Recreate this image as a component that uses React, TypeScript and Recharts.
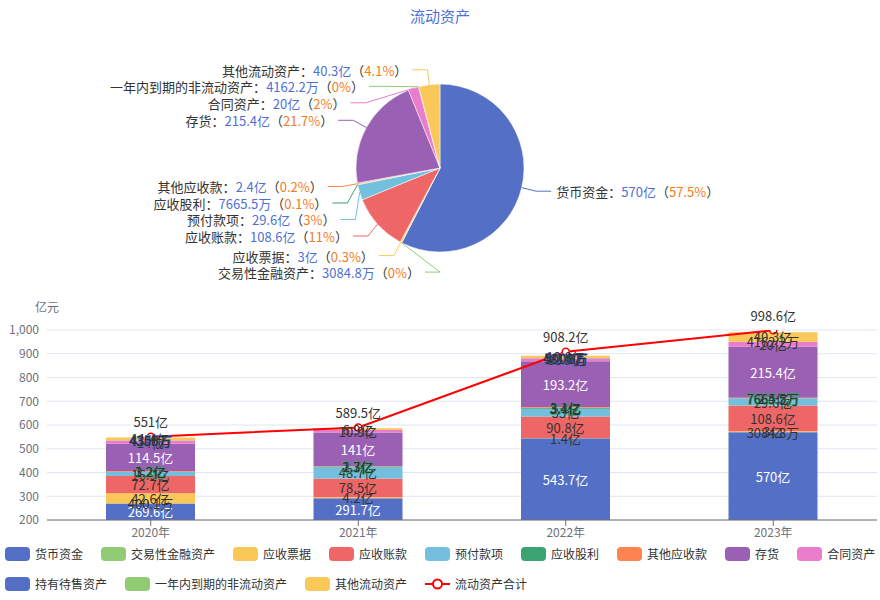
import React from 'react';
import { PieChart, Pie, Cell, ComposedChart, Bar, Line, XAxis, YAxis, CartesianGrid, LabelList } from 'recharts';

// 单位：亿元
const years = ['2020年', '2021年', '2022年', '2023年'];
const seriesNames = [
  '货币资金', '交易性金融资产', '应收票据', '应收账款', '预付款项', '应收股利',
  '其他应收款', '存货', '合同资产', '持有待售资产', '一年内到期的非流动资产', '其他流动资产',
];
const colors = [
  '#5470c6', '#91cc75', '#fac858', '#ee6666', '#73c0de', '#3ba272',
  '#fc8452', '#9a60b4', '#ea7ccc', '#5470c6', '#91cc75', '#fac858',
];

const cash = [269.6, 291.7, 543.7, 570];
const tradingAssets = [0.04001, null, null, 0.30848];
const notesReceivable = [42.6, 4.2, 1.4, 3];
const accountsReceivable = [72.7, 78.5, 90.8, 108.6];
const prepayments = [16.9, 48.7, 33, 29.6];
const dividendsReceivable = [1.2, 2.3, 3.4, 0.76655];
const otherReceivables = [3.2, 1.7, 3.1, 2.4];
const inventory = [114.5, 141, 193.2, 215.4];
const contractAssets = [14, 10.9, 11.9, 20];
const heldForSale = [0.4355, null, 0.5, null];
const nonCurrentDueInYear = [0.43, null, 0.04816, 0.41622];
const otherCurrent = [11.4, 6.9, 10.8, 40.3];
const totalCurrent = [551, 589.5, 908.2, 998.6];

const yTicks = [200, 300, 400, 500, 600, 700, 800, 900, 1000];

const seriesValues = [
  cash, tradingAssets, notesReceivable, accountsReceivable, prepayments, dividendsReceivable,
  otherReceivables, inventory, contractAssets, heldForSale, nonCurrentDueInYear, otherCurrent,
];

// white text on the dark bars
const lightText = [true, false, false, false, false, false, false, true, false, false, false, false];
// series whose label outline shows in the original
const outlined = [false, false, false, false, false, true, false, false, false, true, false, false];

const tableData = years.map((year, i) => {
  const row: any = { year, total: totalCurrent[i] };
  seriesValues.forEach((vals, k) => { row[`s${k}`] = vals[i]; });
  return row;
});

const pieData = seriesNames
  .map((name, k) => ({ name, value: seriesValues[k][3], color: colors[k] }))
  .filter(d => d.value != null) as { name: string; value: number; color: string }[];

const fmtAmount = (v: number) =>
  v >= 1 ? `${+v.toFixed(1)}亿` : `${+(v * 10000).toFixed(1)}万`;

const FONT = '"Noto Sans CJK SC", "Noto Sans", sans-serif';

// pie geometry
const PIE_CX = 440;
const PIE_CY = 168;
const PIE_R = 84;
const LEN1 = 15;
const LEN2 = 15;
const LABEL_GAP = 16.5;

function layoutPieLabels(values: number[]) {
  const sum = values.reduce((a, b) => a + b, 0);
  const R = PIE_R + LEN1;
  let acc = 0;
  const items = values.map((v, i) => {
    const mid = ((acc + v / 2) / sum) * 2 * Math.PI;
    acc += v;
    return {
      i,
      left: Math.sin(mid) < 0,
      sx: PIE_CX + PIE_R * Math.sin(mid),
      sy: PIE_CY - PIE_R * Math.cos(mid),
      x: PIE_CX + R * Math.sin(mid),
      y: PIE_CY - R * Math.cos(mid),
      pct: +((v / sum) * 100).toFixed(1),
    };
  });
  [true, false].forEach(side => {
    const list = items.filter(it => it.left === side).sort((a, b) => a.y - b.y);
    for (let k = 1; k < list.length; k++) {
      if (list[k].y < list[k - 1].y + LABEL_GAP) {
        list[k].y = list[k - 1].y + LABEL_GAP;
        const dy = list[k].y - PIE_CY;
        const dx = Math.sqrt(Math.max(0, R * R - dy * dy));
        list[k].x = side ? PIE_CX - dx : PIE_CX + dx;
      }
    }
  });
  const out: any[] = [];
  items.forEach(it => { out[it.i] = it; });
  return out;
}

const pieLayout = layoutPieLabels(pieData.map(d => d.value));

const renderPieLabel = (props: any) => {
  const idx = props.index;
  const d = pieData[idx];
  const lay = pieLayout[idx];
  if (!d || !lay) return null;
  const endX = lay.left ? lay.x - LEN2 : lay.x + LEN2;
  const textX = lay.left ? endX - 5 : endX + 5;
  return (
    <g key={`pl-${idx}`}>
      <polyline
        points={`${lay.sx},${lay.sy} ${lay.x},${lay.y} ${endX},${lay.y}`}
        fill="none"
        stroke={d.color}
        strokeWidth={1}
      />
      <text
        x={textX}
        y={lay.y}
        textAnchor={lay.left ? 'end' : 'start'}
        dominantBaseline="central"
        fontSize={13}
        fontFamily={FONT}
      >
        <tspan fill="#333">{d.name}：</tspan>
        <tspan fill="#4f6fd6">{fmtAmount(d.value)}</tspan>
        <tspan fill="#333">（</tspan>
        <tspan fill="#f57c22">{lay.pct}%</tspan>
        <tspan fill="#333">）</tspan>
      </text>
    </g>
  );
};

const makeBarLabel = (k: number) => (props: any) => {
  const { value } = props;
  if (value == null) return null;
  const vb = props.viewBox ?? props;
  const x = (vb.x ?? props.x) + (vb.width ?? props.width ?? 0) / 2;
  const y = (vb.y ?? props.y) + (vb.height ?? props.height ?? 0) / 2;
  return (
    <text
      x={x}
      y={y}
      textAnchor="middle"
      dominantBaseline="central"
      fontSize={13}
      fontFamily={FONT}
      fill={lightText[k] ? '#fff' : '#333'}
      stroke={outlined[k] ? colors[k] : 'none'}
      strokeWidth={1.5}
      paintOrder="stroke"
    >
      {fmtAmount(value)}
    </text>
  );
};

const TotalLabel = (props: any) => {
  const vb = props.viewBox ?? props;
  const x = (vb.x ?? props.x) + (vb.width ?? 0) / 2;
  const y = vb.y ?? props.y;
  return (
    <text x={x} y={y - 15} textAnchor="middle" dominantBaseline="central" fontSize={13} fontFamily={FONT} fill="#333">
      {fmtAmount(props.value)}
    </text>
  );
};

const LegendItem = ({ name, color, line }: { name: string; color: string; line?: boolean }) => (
  <span style={{ display: 'inline-flex', alignItems: 'center', marginRight: 18 }}>
    {line ? (
      <svg width={25} height={14} style={{ marginRight: 5 }}>
        <line x1={0} y1={7} x2={25} y2={7} stroke={color} strokeWidth={2} />
        <circle cx={12.5} cy={7} r={4.5} fill="#fff" stroke={color} strokeWidth={2} />
      </svg>
    ) : (
      <span style={{ width: 25, height: 14, borderRadius: 4, background: color, marginRight: 5, display: 'inline-block' }} />
    )}
    <span style={{ fontSize: 12, color: '#333', lineHeight: '14px' }}>{name}</span>
  </span>
);

export default function App() {
  return (
    <div style={{ position: 'absolute', left: 0, top: 0, width: 880, height: 600, overflow: 'hidden', background: '#fff', fontFamily: FONT }}>
      <div style={{ position: 'absolute', left: 0, top: 6, width: 880, textAlign: 'center', fontSize: 15, color: '#4d6fd6', lineHeight: '20px' }}>
        流动资产
      </div>

      <div style={{ position: 'absolute', left: 0, top: 0 }}>
        <PieChart width={880} height={290} margin={{ top: 0, right: 0, bottom: 0, left: 0 }}>
          <Pie
            data={pieData}
            dataKey="value"
            nameKey="name"
            cx={PIE_CX}
            cy={PIE_CY}
            outerRadius={PIE_R}
            startAngle={90}
            endAngle={-270}
            stroke="#fff"
            strokeWidth={0.5}
            label={renderPieLabel}
            labelLine={false}
            isAnimationActive={false}
          >
            {pieData.map(d => (
              <Cell key={d.name} fill={d.color} />
            ))}
          </Pie>
        </PieChart>
      </div>

      <div style={{ position: 'absolute', left: 35, top: 298, fontSize: 12, color: '#6e7079' }}>亿元</div>

      <div style={{ position: 'absolute', left: 0, top: 290 }}>
        <ComposedChart width={880} height={265} data={tableData} margin={{ top: 40, right: 3, bottom: 5, left: 0 }}>
          <CartesianGrid vertical={false} stroke="#e0e6f1" />
          <XAxis
            dataKey="year"
            height={30}
            axisLine={{ stroke: '#6e7079' }}
            tickLine={{ stroke: '#6e7079' }}
            tick={{ fill: '#6e7079', fontSize: 12 }}
          />
          <YAxis
            width={47}
            domain={[200, 1000]}
            ticks={yTicks}
            allowDataOverflow
            axisLine={false}
            tickLine={false}
            tick={{ fill: '#6e7079', fontSize: 12 }}
            tickFormatter={(v: number) => v.toLocaleString('en-US')}
          />
          {seriesNames.map((name, k) => (
            <Bar
              key={name}
              dataKey={`s${k}`}
              name={name}
              stackId="a"
              fill={colors[k]}
              barSize={89}
              isAnimationActive={false}
            >
              <LabelList dataKey={`s${k}`} content={makeBarLabel(k)} />
            </Bar>
          ))}
          <Line
            dataKey="total"
            name="流动资产合计"
            stroke="#ff0000"
            strokeWidth={2}
            dot={{ r: 3.5, fill: '#fff', stroke: '#ff0000', strokeWidth: 1.5 }}
            isAnimationActive={false}
          >
            <LabelList dataKey="total" content={TotalLabel} />
          </Line>
        </ComposedChart>
      </div>

      <div style={{ position: 'absolute', left: 5, top: 547, whiteSpace: 'nowrap', display: 'flex' }}>
        {seriesNames.slice(0, 9).map((name, k) => (
          <LegendItem key={name} name={name} color={colors[k]} />
        ))}
      </div>
      <div style={{ position: 'absolute', left: 5, top: 577, whiteSpace: 'nowrap', display: 'flex' }}>
        {seriesNames.slice(9).map((name, k) => (
          <LegendItem key={name} name={name} color={colors[k + 9]} />
        ))}
        <LegendItem name="流动资产合计" color="#ff0000" line />
      </div>
    </div>
  );
}
